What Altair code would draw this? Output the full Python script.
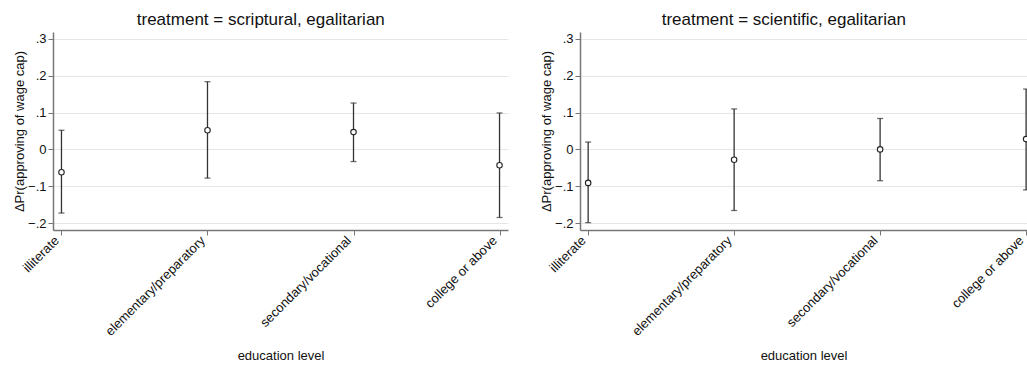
import altair as alt
import pandas as pd

levels = ["illiterate", "elementary/preparatory", "secondary/vocational", "college or above"]

scrip_est = [-0.062, 0.052, 0.047, -0.043]
scrip_lo = [-0.173, -0.078, -0.033, -0.185]
scrip_hi = [0.052, 0.184, 0.126, 0.099]

sci_est = [-0.091, -0.028, 0.000, 0.028]
sci_lo = [-0.199, -0.166, -0.085, -0.110]
sci_hi = [0.020, 0.110, 0.084, 0.164]

yticks = [-0.2, -0.1, 0, 0.1, 0.2, 0.3]

FONT = "Liberation Sans"


def panel(title, est, lo, hi, width, padding, align):
    df = pd.DataFrame({"level": levels, "est": est, "lo": lo, "hi": hi})
    xaxis = alt.Axis(labelAngle=-45, labelAlign="right", labelBaseline="bottom",
                     grid=False, tickSize=5, labelPadding=8, titlePadding=11)
    xscale = alt.Scale(type="point", padding=padding, align=align)
    yscale = alt.Scale(domain=[-0.219, 0.319], nice=False, zero=False)
    yaxis = alt.Axis(values=yticks, tickSize=5,
                     labelExpr="replace(format(datum.value, '.1~f'), '0.', '.')",
                     grid=True, titlePadding=1)
    ytitle = "ΔPr(approving of wage cap)"
    base = alt.Chart(df)
    bars = base.mark_errorbar(ticks=alt.MarkConfig(size=6, color="#333333"), color="#333333",
                              thickness=1.3, clip=True).encode(
        x=alt.X("level:N", sort=levels, title="education level", scale=xscale, axis=xaxis),
        y=alt.Y("lo:Q", scale=yscale, axis=yaxis, title=ytitle),
        y2="hi:Q",
    )
    pts = base.mark_point(shape="circle", filled=False, fill="white", fillOpacity=1,
                          color="#222222", size=30, strokeWidth=1.1, clip=True).encode(
        x=alt.X("level:N", sort=levels, title="education level", scale=xscale, axis=xaxis),
        y=alt.Y("est:Q", scale=yscale, axis=yaxis, title=ytitle),
    )
    return alt.layer(bars, pts).properties(
        width=width, height=198,
        title=alt.TitleParams(title, anchor="middle", frame="bounds", fontSize=17,
                              fontWeight="normal", font=FONT, color="#111111", offset=3),
    )


left = panel("treatment = scriptural, egalitarian", scrip_est, scrip_lo, scrip_hi,
             455, 0.058, 0.5)
right = panel("treatment = scientific, egalitarian", sci_est, sci_lo, sci_hi,
              447, 0.031, 0.9)

chart = alt.hconcat(left, right, spacing=32).properties(
    padding={"left": 13, "top": 11, "right": 0, "bottom": 5}
).configure_view(stroke=None).configure_axis(
    labelFont=FONT, titleFont=FONT, labelFontSize=13, titleFontSize=13,
    labelColor="#111111", titleColor="#111111", titleFontWeight="normal",
    domainColor="#777777", domainWidth=1.5, tickColor="#777777",
    gridColor="#e6e6e6", gridWidth=1,
)

chart.save("out.html", embed_options={"renderer": "svg", "actions": False})
